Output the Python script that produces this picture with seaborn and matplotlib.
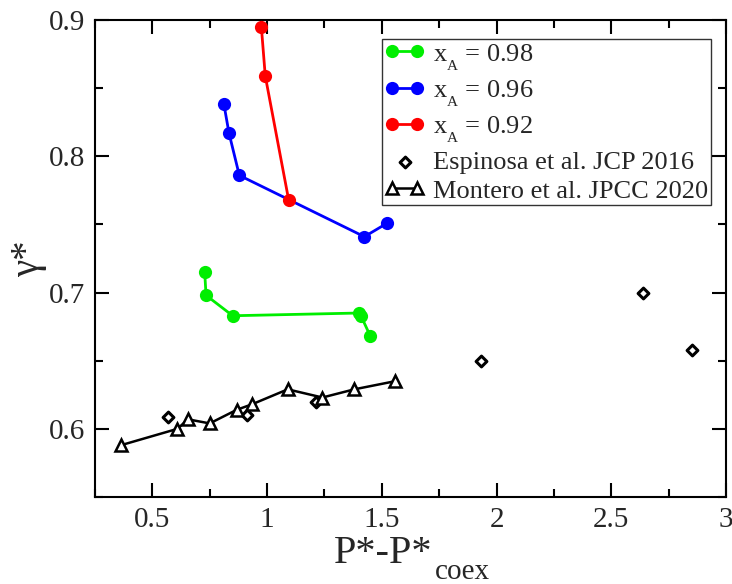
import numpy as np
import pandas as pd
import matplotlib
matplotlib.use("Agg")
import matplotlib.pyplot as plt
import seaborn as sns
from matplotlib.ticker import MultipleLocator
import matplotlib._mathtext as _mt

# small, deep subscripts as in the reference (xmgrace style)
try:
    _mt.SHRINK_FACTOR = 0.58
    _mt.FontConstantsBase.sub1 = 0.83
    _mt.FontConstantsBase.subdrop = 0.83
except Exception:
    pass

# ---- data ----
x_098 = [0.728, 0.734, 0.850, 1.402, 1.409, 1.450]
y_098 = [0.715, 0.698, 0.683, 0.685, 0.683, 0.668]
x_096 = [0.812, 0.834, 0.879, 1.424, 1.524]
y_096 = [0.838, 0.817, 0.786, 0.741, 0.751]
x_092 = [0.975, 0.992, 1.094]
y_092 = [0.895, 0.859, 0.768]
x_esp = [0.570, 0.912, 1.215, 1.934, 2.640, 2.854]
y_esp = [0.609, 0.610, 0.620, 0.650, 0.700, 0.658]
x_mon = [0.363, 0.609, 0.655, 0.750, 0.868, 0.934, 1.090, 1.241, 1.380, 1.559]
y_mon = [0.588, 0.600, 0.607, 0.604, 0.614, 0.618, 0.629, 0.623, 0.629, 0.635]

labels = [r"x$_{\mathregular{A}}$ = 0.98", r"x$_{\mathregular{A}}$ = 0.96",
          r"x$_{\mathregular{A}}$ = 0.92", "Espinosa et al. JCP 2016",
          "Montero et al. JPCC 2020"]
x_ticks = [0.5, 1, 1.5, 2, 2.5, 3]
x_ticklabels = ["0.5", "1", "1.5", "2", "2.5", "3"]
y_ticks = [0.6, 0.7, 0.8, 0.9]
y_ticklabels = ["0.6", "0.7", "0.8", "0.9"]
x_title, x_title_sub = "P*-P*", "coex"
y_title = "γ*"

sns.set_style("ticks")
plt.rcParams["font.family"] = ["Liberation Serif", "DejaVu Serif"]
plt.rcParams["mathtext.fontset"] = "custom"
plt.rcParams["mathtext.rm"] = "Liberation Serif"
plt.rcParams["mathtext.it"] = "Liberation Serif:italic"
plt.rcParams["mathtext.default"] = "regular"

W, H = 732, 584
fig = plt.figure(figsize=(W / 100, H / 100), dpi=100)
L, R, T, B = 95, 726, 20, 497
ax = fig.add_axes([L / W, (H - B) / H, (R - L) / W, (B - T) / H])

handles = []
for xs, ys, c, lab in [(x_098, y_098, "#00ee00", labels[0]),
                       (x_096, y_096, "#0000ff", labels[1]),
                       (x_092, y_092, "#ff0000", labels[2])]:
    sns.lineplot(x=xs, y=ys, ax=ax, sort=False, estimator=None, color=c,
                 marker="o", markersize=9.5, markeredgecolor=c,
                 markeredgewidth=0, linewidth=2.0, legend=False, zorder=3)
    ln = ax.get_lines()[-1]
    ln.set_label(lab)
    handles.append(ln)

sns.scatterplot(x=x_esp, y=y_esp, ax=ax, marker="D", s=30, color="white",
                edgecolor="black", linewidth=2.2, legend=False, zorder=4)
sc = ax.collections[-1]
sc.set_label(labels[3])

sns.lineplot(x=x_mon, y=y_mon, ax=ax, sort=False, estimator=None, color="black",
             marker="^", markersize=8, markerfacecolor="white",
             markeredgecolor="black", markeredgewidth=1.8, linewidth=1.8,
             legend=False, zorder=5)
lm = ax.get_lines()[-1]
lm.set_label(labels[4])

ax.set_xlim(0.25, 3.0)
ax.set_ylim(0.55, 0.9)
ax.set_xticks(x_ticks)
ax.set_xticklabels(x_ticklabels)
ax.set_yticks(y_ticks)
ax.set_yticklabels(y_ticklabels)
ax.xaxis.set_minor_locator(MultipleLocator(0.25))
ax.yaxis.set_minor_locator(MultipleLocator(0.05))
ax.tick_params(which="both", direction="in", top=True, right=True,
               width=1.5, color="black")
ax.tick_params(which="major", length=10, labelsize=21, pad=7)
ax.tick_params(which="minor", length=6)
for s in ax.spines.values():
    s.set_linewidth(1.5)
    s.set_color("black")

# x title: main part as the axis label, subscript as a lowered text
ax.set_xlabel(x_title, fontsize=29, ha="right", va="baseline")
ax.xaxis.set_label_coords((432 - L) / (R - L), (B - 563) / (B - T))
ax.text((435 - L) / (R - L), (B - 579) / (B - T), x_title_sub,
        transform=ax.transAxes, fontsize=21, ha="left", va="baseline")
ax.set_ylabel(y_title, fontsize=28, labelpad=1)

leg = ax.legend(handles + [sc, lm], labels, loc="upper right",
                bbox_to_anchor=(0.976, 0.960), borderaxespad=0,
                fontsize=19, frameon=True, fancybox=False, numpoints=2,
                scatterpoints=1, handlelength=1.55, handletextpad=0.3,
                labelspacing=0.2, borderpad=0.1)
leg.get_frame().set_edgecolor("black")
leg.get_frame().set_linewidth(1.0)

fig.savefig("out.png", dpi=100)
